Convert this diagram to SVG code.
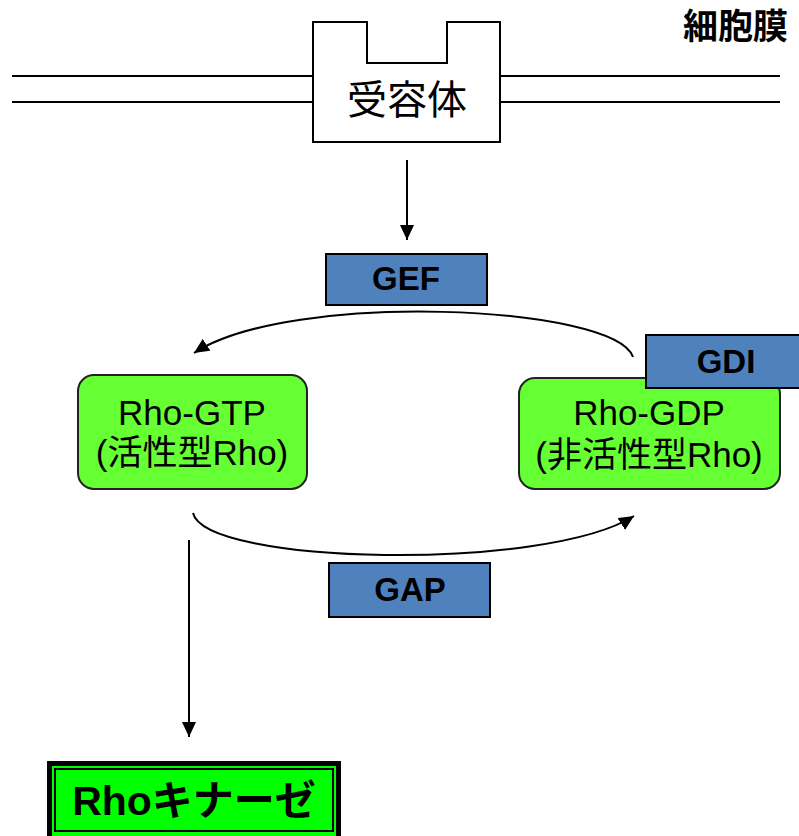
<svg xmlns="http://www.w3.org/2000/svg" width="799" height="836" viewBox="0 0 799 836">
<style>
.jp{font-family:"Liberation Sans","Noto Sans CJK JP",sans-serif;fill:#000}
.lbl{font-family:"Liberation Sans","Noto Sans CJK JP",sans-serif;font-weight:bold;font-size:33px;text-anchor:middle;fill:#000}
.blue{fill:#4F81BD;stroke:#000;stroke-width:2}
.rho{fill:#66FF33;stroke:#222;stroke-width:2}
.conn{fill:none;stroke:#000;stroke-width:2}
</style>
<defs>
<marker id="ah" markerUnits="userSpaceOnUse" markerWidth="16" markerHeight="14" refX="15" refY="7" orient="auto">
<path d="M0,0 L15,7 L0,14 z" fill="#000"/>
</marker>
</defs>
<rect width="799" height="836" fill="#fff"/>
<g id="membrane">
<line x1="12" y1="76" x2="313" y2="76" stroke="#000" stroke-width="2"/>
<line x1="12" y1="102" x2="313" y2="102" stroke="#000" stroke-width="2"/>
<line x1="500" y1="76" x2="780" y2="76" stroke="#000" stroke-width="2"/>
<line x1="500" y1="102" x2="780" y2="102" stroke="#000" stroke-width="2"/>
<text class="jp" x="683" y="39" font-size="35" font-weight="bold">細胞膜</text>
</g>
<g id="receptor">
<path d="M313,22 H367 V63 H447 V22 H500 V142 H313 Z" fill="#fff" stroke="#000" stroke-width="2"/>
<text class="jp" x="407" y="114" font-size="40" text-anchor="middle">受容体</text>
</g>
<g id="connectors">
<line class="conn" x1="407" y1="160" x2="407" y2="240" marker-end="url(#ah)"/>
<path class="conn" d="M633,357 C615,305 290,290 194,353" marker-end="url(#ah)"/>
<path class="conn" d="M193,513 C205,565 545,572 634,516" marker-end="url(#ah)"/>
<line class="conn" x1="189" y1="540" x2="189" y2="737" marker-end="url(#ah)"/>
</g>
<g id="gef">
<rect class="blue" x="326" y="254" width="161" height="51"/>
<text class="lbl" x="406" y="290">GEF</text>
</g>
<g id="rho-gtp">
<rect class="rho" x="78" y="375" width="229" height="114" rx="16"/>
<text class="jp" x="192" y="425" font-size="35" text-anchor="middle">Rho-GTP</text>
<text class="jp" x="192" y="465" font-size="35" text-anchor="middle">(活性型Rho)</text>
</g>
<g id="rho-gdp">
<rect class="rho" x="519" y="378" width="261" height="111" rx="16"/>
<text class="jp" x="649" y="425" font-size="35" text-anchor="middle">Rho-GDP</text>
<text class="jp" x="649" y="467" font-size="35" text-anchor="middle">(非活性型Rho)</text>
</g>
<g id="gdi">
<rect class="blue" x="646" y="335" width="160" height="53"/>
<text class="lbl" x="726" y="373">GDI</text>
</g>
<g id="gap">
<rect class="blue" x="329" y="563" width="161" height="54"/>
<text class="lbl" x="410" y="601">GAP</text>
</g>
<g id="rho-kinase">
<rect x="47" y="761" width="294" height="80" fill="#000"/>
<rect x="52" y="766" width="284" height="70" fill="#00FF00"/>
<rect x="55" y="769" width="278" height="62" fill="#00FF00" stroke="#000" stroke-width="2"/>
<text class="jp" x="194" y="815" font-size="41" font-weight="bold" text-anchor="middle">Rhoキナーゼ</text>
</g>
</svg>
